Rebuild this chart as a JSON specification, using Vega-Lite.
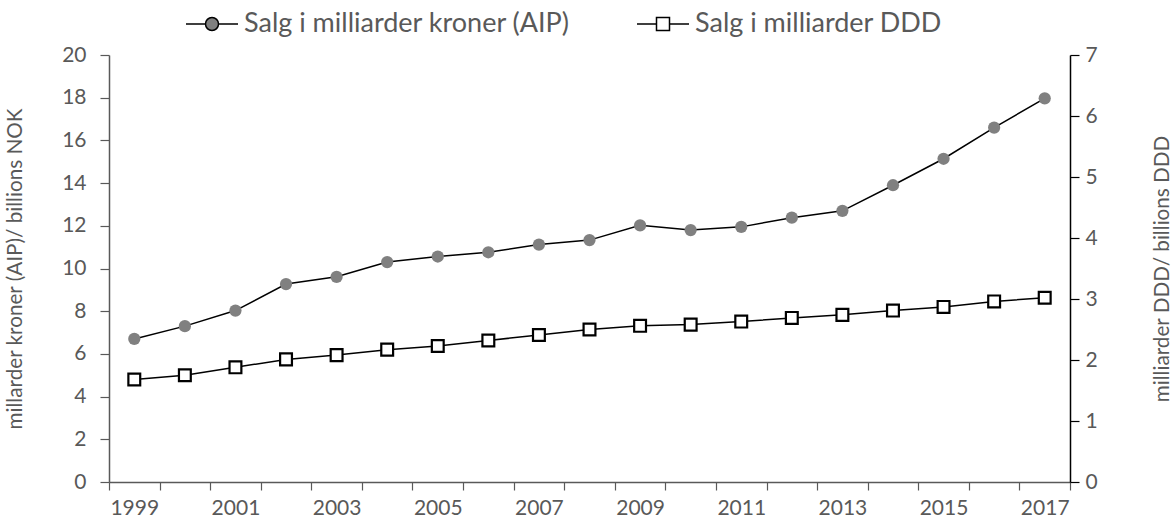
{
  "$schema": "https://vega.github.io/schema/vega-lite/v6.json",
  "width": 961,
  "height": 427,
  "autosize": {"type": "none"},
  "padding": {"left": 109, "top": 55, "right": 106, "bottom": 41},
  "background": "white",
  "config": {
    "view": {"stroke": null},
    "font": "Lato",
    "axis": {"labelFont": "Lato", "titleFont": "Lato", "labelColor": "#595959", "titleColor": "#595959", "titleFontWeight": "normal", "grid": false, "labelFontSize": 21, "titleFontSize": 20.7},
    "legend": {"labelFont": "Lato"}
  },
  "data": {
    "values": [
      {"year": 1999, "aip": 6.7, "ddd": 1.68},
      {"year": 2000, "aip": 7.3, "ddd": 1.75},
      {"year": 2001, "aip": 8.03, "ddd": 1.88},
      {"year": 2002, "aip": 9.27, "ddd": 2.01},
      {"year": 2003, "aip": 9.61, "ddd": 2.08},
      {"year": 2004, "aip": 10.3, "ddd": 2.17},
      {"year": 2005, "aip": 10.56, "ddd": 2.23},
      {"year": 2006, "aip": 10.76, "ddd": 2.32},
      {"year": 2007, "aip": 11.12, "ddd": 2.41},
      {"year": 2008, "aip": 11.33, "ddd": 2.5},
      {"year": 2009, "aip": 12.02, "ddd": 2.56},
      {"year": 2010, "aip": 11.8, "ddd": 2.58},
      {"year": 2011, "aip": 11.95, "ddd": 2.63},
      {"year": 2012, "aip": 12.38, "ddd": 2.69},
      {"year": 2013, "aip": 12.7, "ddd": 2.74},
      {"year": 2014, "aip": 13.9, "ddd": 2.81},
      {"year": 2015, "aip": 15.14, "ddd": 2.87},
      {"year": 2016, "aip": 16.6, "ddd": 2.96},
      {"year": 2017, "aip": 17.97, "ddd": 3.02}
    ]
  },
  "layer": [
    {
      "encoding": {
        "x": {
          "field": "year", "type": "ordinal",
          "scale": {"paddingInner": 0, "paddingOuter": 0},
          "axis": {"title": null, "tickBand": "extent", "labelAngle": 0, "labelExpr": "datum.value % 2 == 1 ? datum.label : ''", "domainColor": "#595959", "domainWidth": 1.5, "tickColor": "#595959", "tickWidth": 1.2, "tickSize": 8, "labelPadding": 7}
        },
        "y": {
          "field": "aip", "type": "quantitative",
          "scale": {"domain": [0, 20], "nice": false, "zero": true},
          "axis": {"title": "millarder kroner (AIP)/ billions NOK", "orient": "left", "values": [0, 2, 4, 6, 8, 10, 12, 14, 16, 18, 20], "tickSize": 9, "labelPadding": 14, "titlePadding": 36, "domainColor": "#595959", "domainWidth": 1.5, "tickColor": "#595959", "tickWidth": 1.2}
        }
      },
      "layer": [
        {"mark": {"type": "line", "color": "black", "strokeWidth": 1.5}},
        {"mark": {"type": "point", "shape": "circle", "filled": true, "color": "#808080", "opacity": 1, "size": 150}}
      ]
    },
    {
      "encoding": {
        "x": {"field": "year", "type": "ordinal"},
        "y": {
          "field": "ddd", "type": "quantitative",
          "scale": {"domain": [0, 7], "nice": false, "zero": true},
          "axis": {"title": "milliarder DDD/ billions DDD", "orient": "right", "values": [0, 1, 2, 3, 4, 5, 6, 7], "tickSize": 9, "labelPadding": 6, "titlePadding": 55, "titleAngle": -90, "titleBaseline": "top", "domainColor": "black", "domainWidth": 1.5, "tickColor": "black", "tickWidth": 1.2}
        }
      },
      "layer": [
        {"mark": {"type": "line", "color": "black", "strokeWidth": 1.5}},
        {"mark": {"type": "point", "shape": "square", "filled": true, "fill": "white", "stroke": "black", "strokeWidth": 2.2, "opacity": 1, "size": 140}}
      ]
    },
    {
      "transform": [
        {"fold": ["aip", "ddd"], "as": ["series", "v"]},
        {"filter": "datum.year < 0"}
      ],
      "mark": {"type": "point", "filled": true, "stroke": "black", "strokeWidth": 1.5, "opacity": 1},
      "encoding": {
        "shape": {
          "field": "series", "type": "nominal",
          "scale": {
            "domain": ["Salg i milliarder kroner (AIP)", "Salg i milliarder DDD"],
            "range": ["M-1,0H-0.25M0.25,0H1M-0.25,0A0.25,0.25,0,1,1,0.25,0A0.25,0.25,0,1,1,-0.25,0Z", "M-1,0H-0.25M0.25,0H1M-0.25,-0.25H0.25V0.25H-0.25Z"]
          },
          "legend": {
            "title": null, "orient": "none", "legendX": 76, "legendY": -58, "direction": "horizontal", "symbolSize": 2704, "labelFontSize": 27, "labelColor": "#595959", "labelOffset": 5, "labelLimit": 600, "columnPadding": 63,
            "encode": {"symbols": {"update": {"shape": {"scale": "shape", "field": "value"}, "fill": {"scale": "fill", "field": "value"}, "stroke": {"value": "black"}, "strokeWidth": {"value": 1.5}, "size": {"value": 2704}, "opacity": {"value": 1}}}}
          }
        },
        "fill": {
          "field": "series", "type": "nominal",
          "scale": {"domain": ["Salg i milliarder kroner (AIP)", "Salg i milliarder DDD"], "range": ["#808080", "white"]},
          "legend": null
        }
      }
    }
  ],
  "resolve": {"scale": {"y": "independent"}}
}
